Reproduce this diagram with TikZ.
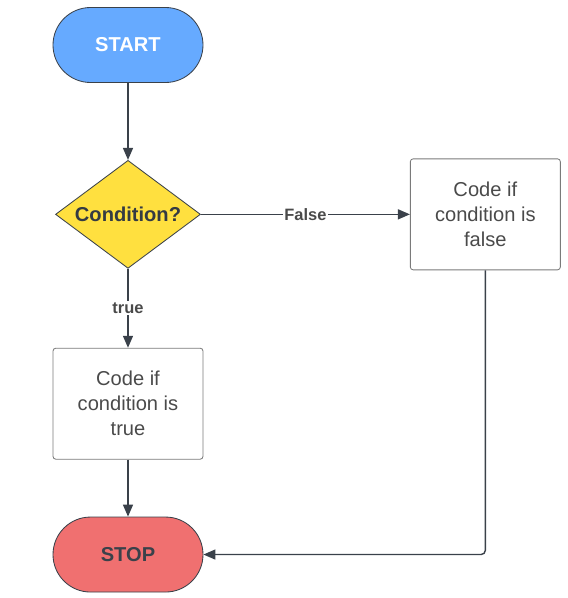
\documentclass[tikz,border=0pt]{standalone}
\usepackage{fontspec}
\setmainfont{Liberation Sans}
\usetikzlibrary{positioning,shapes.geometric,arrows.meta}
\definecolor{startblue}{HTML}{66AAFF}
\definecolor{condyellow}{HTML}{FFE03F}
\definecolor{stopred}{HTML}{F07070}
\definecolor{edgegray}{HTML}{3A414A}
\definecolor{textgray}{HTML}{4A4A4A}
\definecolor{boxgray}{HTML}{7A7A7A}
\begin{document}
\begin{tikzpicture}[
terminal/.style = {draw = edgegray, line width = 0.6pt, rectangle, rounded corners = 0.9375cm, minimum width = 3.75cm, minimum height = 1.875cm, font = \fontsize{14.3}{17.7}\selectfont\bfseries},
decision/.style = {draw = edgegray, line width = 0.6pt, diamond, aspect = 1.34, inner sep = 0pt, fill = condyellow, minimum width = 3.625cm, minimum height = 2.7cm, text = edgegray!90!black, font = \fontsize{14.3}{17.7}\selectfont\bfseries},
process/.style = {draw = boxgray, line width = 0.6pt, rectangle, rounded corners = 2pt, minimum width = 3.75cm, minimum height = 2.775cm, align = center, text = textgray, font = \fontsize{14.3}{17.7}\selectfont},
flow/.style = {draw = edgegray, line width = 1pt, -{Triangle[length = 0.3cm, width = 0.25cm]}},
branch/.style = {fill = white, inner sep = 1pt, text = textgray, font = \fontsize{11.7}{14}\selectfont\bfseries}
]
\useasboundingbox (0,0) rectangle (14.2,-14.95);
\node [terminal, fill = startblue, text = white] (start) at (3.2,-1.125) {START};
\node [decision, below = 1.925cm of start] (cond) {Condition?};
\node [process, right = 5.225cm of cond] (nobox) {Code if\\condition is\\false};
\node [process, below = 1.975cm of cond] (yesbox) {Code if\\condition is\\true};
\node [terminal, fill = stopred, text = edgegray, below = 1.425cm of yesbox] (stop) {STOP};

\draw [flow] (start) -- (cond);
\draw [flow] (cond) -- node [branch] {False} (nobox);
\draw [flow] (cond) -- node [branch] {true} (yesbox);
\draw [flow] (yesbox) -- (stop);
\draw [flow, rounded corners = 3pt] (nobox.south) |- (stop.east);
\end{tikzpicture}
\end{document}
